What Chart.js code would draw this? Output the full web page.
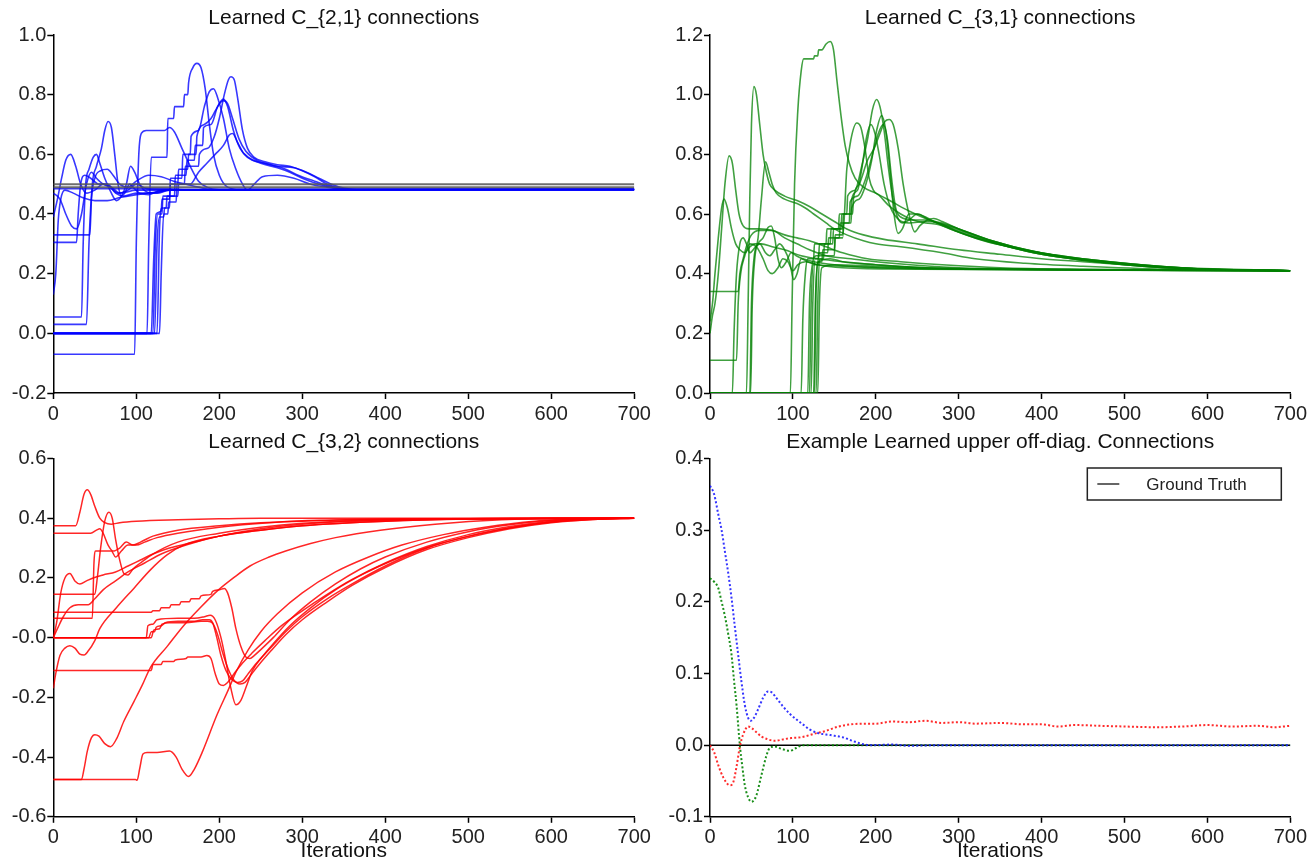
<!DOCTYPE html>
<html><head><meta charset="utf-8">
<script src="https://cdn.jsdelivr.net/npm/chart.js@4.4.1/dist/chart.umd.min.js"></script>
<style>
html,body{margin:0;padding:0;background:#fff;width:1310px;height:860px;overflow:hidden}
canvas{position:absolute}
</style></head><body>
<canvas id="c1" width="655" height="430" style="left:0;top:0;width:655px;height:430px"></canvas>
<canvas id="c2" width="655" height="430" style="left:655px;top:0;width:655px;height:430px"></canvas>
<canvas id="c3" width="655" height="435" style="left:0;top:425px;width:655px;height:435px"></canvas>
<canvas id="c4" width="655" height="435" style="left:655px;top:425px;width:655px;height:435px"></canvas>
<script>
// ---------- axis ticks ----------
const iterTicks = [0,100,200,300,400,500,600,700];
const c21TickValues = [-0.2,0,0.2,0.4,0.6,0.8,1.0];
const c21TickLabels = ['-0.2','0.0','0.2','0.4','0.6','0.8','1.0'];
const c31TickValues = [0,0.2,0.4,0.6,0.8,1.0,1.2];
const c31TickLabels = ['0.0','0.2','0.4','0.6','0.8','1.0','1.2'];
const c32TickValues = [-0.6,-0.4,-0.2,0,0.2,0.4,0.6];
const c32TickLabels = ['-0.6','-0.4','-0.2','-0.0','0.2','0.4','0.6'];
const offTickValues = [-0.1,0,0.1,0.2,0.3,0.4];
const offTickLabels = ['-0.1','0.0','0.1','0.2','0.3','0.4'];

const titles = ['Learned C_{2,1} connections','Learned C_{3,1} connections','Learned C_{3,2} connections','Example Learned upper off-diag. Connections'];
const xAxisTitle = 'Iterations';
const gtLabel = 'Ground Truth';

// ---------- C_{2,1} (blue) ----------
const c21Truth1 = [[0,0.5],[700,0.5]];
const c21Truth2 = [[0,0.49],[700,0.49]];
const c21Run1 = [[0,-0.07],[98,-0.07],[100,0.3],[103,0.6],[106,0.67],[112,0.68],[134,0.68],[140,0.69],[146,0.675],[155,0.62],[165,0.56],[175,0.51],[185,0.49],[200,0.482],[700,0.482]];
const c21Run2 = [[0,0],[113,0],[115,0.3],[118,0.59],[137,0.59],[138,0.72],[145,0.72],[146,0.76],[157,0.76],[158,0.8],[162,0.8],[163,0.84],[168,0.89],[173,0.905],[178,0.89],[183,0.82],[188,0.7],[193,0.6],[200,0.53],[210,0.49],[225,0.482],[700,0.482]];
const c21Run3 = [[0,0],[118,0],[121,0.25],[124,0.4],[130,0.41],[131,0.45],[140,0.45],[141,0.52],[155,0.52],[156,0.6],[165,0.6],[166,0.66],[175,0.68],[182,0.76],[188,0.81],[193,0.82],[198,0.79],[205,0.72],[212,0.62],[220,0.55],[228,0.5],[234,0.48],[242,0.5],[252,0.525],[270,0.53],[290,0.52],[310,0.5],[330,0.49],[350,0.482],[700,0.482]];
const c21Run4 = [[0,0],[122,0],[125,0.3],[128,0.39],[133,0.39],[134,0.42],[140,0.42],[141,0.5],[150,0.5],[151,0.55],[162,0.55],[163,0.6],[172,0.6],[173,0.66],[182,0.7],[190,0.72],[196,0.75],[205,0.785],[210,0.76],[217,0.68],[225,0.62],[235,0.59],[250,0.57],[270,0.555],[285,0.54],[300,0.52],[320,0.5],[340,0.487],[360,0.482],[700,0.482]];
const c21Run5 = [[0,0],[125,0],[128,0.35],[131,0.42],[136,0.42],[137,0.46],[146,0.46],[147,0.53],[160,0.53],[161,0.58],[170,0.58],[171,0.63],[180,0.63],[181,0.69],[190,0.7],[198,0.76],[205,0.78],[210,0.77],[216,0.72],[224,0.65],[232,0.61],[245,0.58],[262,0.565],[280,0.55],[295,0.53],[315,0.51],[335,0.492],[355,0.482],[700,0.482]];
const c21Run6 = [[0,0],[128,0],[130,0.2],[133,0.4],[138,0.4],[139,0.44],[148,0.44],[149,0.5],[158,0.5],[159,0.56],[175,0.56],[176,0.6],[186,0.62],[194,0.66],[200,0.72],[206,0.8],[211,0.85],[214,0.86],[218,0.85],[222,0.79],[228,0.68],[234,0.62],[242,0.59],[255,0.575],[270,0.565],[285,0.56],[300,0.545],[315,0.525],[330,0.5],[345,0.487],[360,0.482],[700,0.482]];
const c21Run7 = [[0,0],[120,0],[123,0.3],[126,0.4],[131,0.4],[132,0.46],[150,0.46],[151,0.5],[165,0.5],[175,0.54],[185,0.57],[195,0.6],[205,0.63],[212,0.665],[216,0.67],[222,0.64],[230,0.6],[240,0.58],[255,0.57],[270,0.56],[290,0.555],[305,0.54],[320,0.52],[335,0.5],[350,0.487],[365,0.482],[700,0.482]];
const c21Run8 = [[0,0.39],[5,0.45],[10,0.52],[15,0.58],[21,0.6],[27,0.56],[33,0.5],[40,0.47],[50,0.48],[60,0.5],[70,0.49],[80,0.47],[100,0.48],[700,0.482]];
const c21Run9 = [[0,0.47],[8,0.45],[15,0.4],[22,0.36],[28,0.35],[34,0.4],[40,0.5],[46,0.54],[52,0.52],[60,0.5],[68,0.49],[78,0.47],[90,0.48],[100,0.5],[112,0.485],[130,0.482],[700,0.482]];
const c21Run10 = [[0,0.13],[3,0.2],[6,0.38],[9,0.45],[14,0.48],[24,0.47],[35,0.455],[50,0.445],[65,0.445],[80,0.455],[100,0.465],[120,0.472],[140,0.48],[700,0.482]];
const c21Run11 = [[0,0.03],[40,0.03],[43,0.3],[47,0.5],[52,0.56],[58,0.62],[62,0.68],[66,0.71],[70,0.69],[74,0.6],[78,0.5],[82,0.46],[86,0.47],[92,0.5],[96,0.49],[105,0.47],[120,0.47],[140,0.48],[700,0.482]];
const c21Run12 = [[0,0.055],[34,0.055],[36,0.3],[39,0.5],[43,0.55],[48,0.59],[52,0.6],[56,0.57],[62,0.52],[70,0.47],[76,0.445],[82,0.46],[88,0.5],[93,0.56],[98,0.54],[104,0.5],[112,0.475],[125,0.47],[140,0.48],[700,0.482]];
const c21Run13 = [[0,0.305],[28,0.305],[30,0.4],[33,0.5],[38,0.53],[45,0.52],[55,0.5],[65,0.5],[75,0.47],[85,0.46],[100,0.47],[115,0.465],[130,0.48],[700,0.482]];
const c21Run14 = [[0,0.33],[44,0.33],[46,0.45],[50,0.52],[57,0.545],[65,0.55],[72,0.53],[80,0.5],[90,0.49],[100,0.51],[115,0.53],[130,0.525],[145,0.51],[160,0.5],[175,0.49],[190,0.482],[700,0.482]];
const c21Run15 = [[0,0.485],[130,0.485],[160,0.482],[700,0.482]];

// ---------- C_{3,1} (green) ----------
const c31Run1 = [[0,0],[97,0],[99,0.3],[102,0.7],[106,0.95],[110,1.08],[113,1.12],[125,1.12],[126,1.13],[130,1.13],[131,1.15],[135,1.15],[140,1.17],[145,1.178],[149,1.15],[153,1.05],[158,0.93],[163,0.83],[168,0.77],[175,0.72],[185,0.69],[200,0.67],[220,0.64],[240,0.61],[260,0.585],[280,0.565],[300,0.545],[330,0.515],[360,0.49],[400,0.465],[450,0.445],[500,0.43],[550,0.42],[600,0.415],[700,0.41]];
const c31Run2 = [[0,0],[44,0],[46,0.3],[48,0.65],[50,0.9],[53,1.027],[56,1.0],[60,0.9],[64,0.8],[68,0.74],[72,0.7],[78,0.68],[90,0.66],[105,0.645],[120,0.625],[135,0.6],[150,0.575],[165,0.55],[185,0.53],[210,0.515],[250,0.5],[300,0.48],[350,0.465],[400,0.45],[450,0.44],[500,0.43],[550,0.42],[600,0.415],[700,0.41]];
const c31Run3 = [[0,0.2],[3,0.26],[6,0.3],[10,0.4],[14,0.55],[18,0.7],[23,0.795],[27,0.77],[31,0.68],[35,0.6],[40,0.56],[47,0.55],[60,0.55],[75,0.545],[90,0.53],[105,0.52],[120,0.51],[140,0.49],[160,0.47],[190,0.45],[230,0.44],[280,0.43],[350,0.42],[450,0.415],[700,0.41]];
const c31Run4 = [[0,0.24],[3,0.3],[6,0.4],[10,0.52],[14,0.62],[17,0.65],[21,0.62],[26,0.55],[31,0.5],[36,0.48],[42,0.47],[48,0.49],[54,0.5],[62,0.5],[75,0.49],[90,0.48],[110,0.46],[130,0.45],[160,0.44],[200,0.43],[260,0.42],[350,0.415],[700,0.41]];
const c31Run5 = [[0,0],[49,0],[51,0.3],[54,0.45],[58,0.52],[62,0.65],[67,0.775],[71,0.74],[75,0.7],[80,0.67],[90,0.65],[105,0.635],[115,0.62],[125,0.6],[140,0.57],[150,0.55],[165,0.53],[185,0.51],[200,0.5],[230,0.49],[280,0.47],[320,0.45],[380,0.435],[450,0.425],[550,0.415],[700,0.41]];
const c31Run6 = [[0,0.34],[34,0.34],[36,0.4],[40,0.45],[45,0.5],[50,0.53],[60,0.545],[75,0.545],[90,0.52],[105,0.5],[120,0.48],[140,0.46],[170,0.45],[220,0.435],[300,0.42],[400,0.415],[700,0.41]];
const c31Run7 = [[0,0.11],[32,0.11],[34,0.3],[37,0.4],[42,0.46],[48,0.5],[56,0.49],[64,0.45],[70,0.41],[75,0.4],[82,0.42],[88,0.45],[94,0.44],[100,0.41],[106,0.43],[115,0.44],[130,0.43],[160,0.425],[220,0.42],[700,0.41]];
const c31Run8 = [[0,0],[27,0],[29,0.2],[32,0.4],[36,0.5],[40,0.52],[44,0.5],[48,0.47],[55,0.49],[60,0.5],[67,0.47],[72,0.46],[78,0.48],[84,0.5],[90,0.48],[96,0.44],[101,0.38],[105,0.4],[110,0.45],[118,0.44],[130,0.43],[160,0.42],[250,0.415],[700,0.41]];
const c31Run9 = [[0,0],[48,0],[50,0.3],[53,0.45],[58,0.5],[64,0.52],[70,0.555],[74,0.56],[78,0.52],[82,0.45],[86,0.42],[92,0.44],[98,0.47],[104,0.46],[112,0.45],[125,0.44],[150,0.43],[200,0.42],[300,0.415],[700,0.41]];
const c31Run10 = [[0,0],[110,0],[112,0.25],[115,0.4],[118,0.45],[125,0.45],[126,0.5],[140,0.5],[141,0.55],[155,0.55],[156,0.6],[165,0.6],[166,0.66],[175,0.68],[183,0.76],[190,0.85],[196,0.95],[201,0.984],[205,0.96],[210,0.88],[215,0.76],[220,0.66],[226,0.59],[232,0.57],[240,0.58],[250,0.6],[260,0.59],[270,0.575],[290,0.55],[320,0.52],[360,0.49],[400,0.465],[450,0.445],[500,0.43],[550,0.42],[600,0.415],[700,0.41]];
const c31Run11 = [[0,0],[118,0],[120,0.3],[123,0.42],[128,0.46],[150,0.46],[151,0.52],[160,0.52],[165,0.75],[170,0.85],[177,0.905],[182,0.89],[187,0.82],[192,0.72],[197,0.68],[205,0.66],[215,0.63],[230,0.6],[245,0.58],[260,0.57],[275,0.565],[290,0.55],[330,0.51],[370,0.485],[420,0.46],[480,0.44],[540,0.425],[600,0.415],[700,0.41]];
const c31Run12 = [[0,0],[122,0],[124,0.3],[127,0.45],[131,0.45],[132,0.5],[145,0.5],[146,0.55],[160,0.55],[161,0.6],[170,0.6],[171,0.65],[178,0.68],[183,0.75],[189,0.86],[194,0.9],[199,0.87],[204,0.8],[210,0.7],[218,0.62],[228,0.58],[240,0.57],[260,0.575],[275,0.57],[300,0.54],[340,0.505],[390,0.47],[450,0.445],[510,0.43],[570,0.42],[700,0.41]];
const c31Run13 = [[0,0],[125,0],[127,0.3],[130,0.44],[135,0.44],[136,0.48],[150,0.48],[151,0.53],[160,0.53],[161,0.57],[170,0.57],[171,0.62],[180,0.65],[188,0.7],[195,0.78],[201,0.88],[207,0.93],[212,0.88],[217,0.75],[222,0.6],[227,0.535],[232,0.55],[240,0.6],[250,0.6],[265,0.58],[280,0.57],[300,0.55],[340,0.51],[380,0.48],[430,0.455],[490,0.435],[550,0.42],[700,0.41]];
const c31Run14 = [[0,0],[128,0],[130,0.3],[132,0.45],[137,0.45],[138,0.5],[148,0.5],[149,0.55],[158,0.55],[159,0.6],[172,0.6],[173,0.65],[180,0.7],[190,0.78],[198,0.82],[205,0.87],[211,0.91],[216,0.917],[221,0.9],[227,0.82],[233,0.7],[240,0.6],[247,0.54],[253,0.56],[262,0.58],[270,0.585],[280,0.575],[300,0.55],[340,0.51],[390,0.475],[450,0.45],[520,0.43],[600,0.415],[700,0.41]];
const c31Run15 = [[0,0],[120,0],[122,0.3],[125,0.43],[130,0.43],[131,0.47],[142,0.47],[143,0.52],[156,0.52],[157,0.57],[168,0.57],[169,0.64],[178,0.66],[188,0.72],[196,0.8],[203,0.87],[209,0.9],[214,0.85],[219,0.72],[224,0.62],[230,0.59],[245,0.58],[260,0.58],[275,0.57],[300,0.55],[340,0.51],[390,0.475],[450,0.45],[520,0.43],[600,0.415],[700,0.41]];
const c31Run16 = [[0,0],[130,0],[132,0.3],[135,0.42],[150,0.43],[200,0.425],[300,0.415],[700,0.41]];
const c31Run17 = [[0,0],[126,0],[128,0.35],[131,0.44],[145,0.45],[160,0.44],[200,0.43],[260,0.42],[700,0.41]];

// ---------- C_{3,2} (red) ----------
const c32Run1 = [[0,0.375],[27,0.375],[32,0.42],[37,0.48],[41,0.495],[45,0.48],[50,0.44],[56,0.4],[62,0.385],[70,0.38],[80,0.385],[100,0.39],[150,0.395],[200,0.398],[250,0.4],[700,0.4]];
const c32Run2 = [[0,0.35],[45,0.35],[52,0.36],[56,0.365],[60,0.35],[66,0.31],[72,0.29],[80,0.3],[88,0.32],[96,0.31],[105,0.32],[120,0.34],[150,0.36],[200,0.375],[250,0.385],[300,0.39],[400,0.397],[700,0.4]];
const c32Run3 = [[0,0.145],[50,0.145],[53,0.2],[57,0.3],[62,0.39],[67,0.42],[71,0.4],[75,0.33],[80,0.26],[85,0.215],[90,0.21],[96,0.23],[105,0.25],[120,0.28],[150,0.32],[200,0.35],[250,0.37],[300,0.383],[400,0.395],[700,0.4]];
const c32Run4 = [[0,0.065],[47,0.065],[49,0.25],[51,0.29],[64,0.29],[70,0.29],[75,0.27],[82,0.29],[90,0.31],[100,0.31],[110,0.32],[125,0.335],[150,0.35],[200,0.37],[260,0.385],[320,0.393],[700,0.4]];
const c32Run5 = [[0,0],[4,0.05],[9,0.15],[14,0.2],[20,0.215],[26,0.19],[32,0.18],[40,0.19],[48,0.2],[60,0.21],[75,0.22],[90,0.24],[105,0.26],[120,0.28],[140,0.3],[170,0.32],[200,0.34],[250,0.36],[300,0.375],[400,0.39],[500,0.397],[700,0.4]];
const c32Run6 = [[0,0],[5,0.03],[12,0.07],[20,0.1],[30,0.11],[42,0.11],[50,0.13],[60,0.16],[75,0.19],[90,0.22],[110,0.25],[130,0.28],[160,0.31],[200,0.34],[250,0.365],[300,0.38],[400,0.393],[700,0.4]];
const c32Run7 = [[0,-0.17],[3,-0.12],[8,-0.06],[14,-0.035],[20,-0.027],[26,-0.035],[32,-0.055],[37,-0.058],[42,-0.045],[50,-0.01],[56,0.03],[76,0.1],[97,0.165],[117,0.227],[137,0.277],[157,0.31],[200,0.34],[250,0.36],[300,0.375],[400,0.39],[550,0.4],[700,0.4]];
const c32Run8 = [[0,-0.475],[34,-0.475],[37,-0.44],[41,-0.38],[46,-0.335],[50,-0.325],[55,-0.33],[62,-0.355],[69,-0.365],[76,-0.34],[85,-0.28],[97,-0.215],[107,-0.16],[117,-0.1],[137,-0.03],[157,0.04],[177,0.1],[197,0.155],[217,0.2],[237,0.24],[260,0.27],[280,0.29],[310,0.315],[340,0.335],[394,0.36],[460,0.38],[540,0.395],[620,0.4],[700,0.4]];
const c32Run9 = [[0,-0.475],[99,-0.475],[101,-0.478],[104,-0.44],[108,-0.39],[113,-0.385],[125,-0.385],[140,-0.38],[148,-0.4],[155,-0.44],[163,-0.465],[170,-0.44],[180,-0.38],[197,-0.26],[210,-0.18],[221,-0.11],[235,-0.04],[250,0.02],[270,0.08],[300,0.15],[340,0.22],[380,0.27],[420,0.31],[470,0.345],[520,0.37],[580,0.39],[640,0.398],[700,0.4]];
const c32Run10 = [[0,0.085],[118,0.085],[120,0.09],[128,0.09],[130,0.1],[140,0.1],[142,0.11],[152,0.11],[154,0.12],[164,0.12],[166,0.13],[176,0.13],[178,0.14],[190,0.145],[192,0.155],[200,0.16],[206,0.165],[210,0.15],[215,0.1],[220,0.03],[226,-0.03],[232,-0.065],[237,-0.07],[242,-0.06],[250,-0.04],[265,0.0],[285,0.06],[310,0.12],[340,0.18],[370,0.23],[400,0.27],[450,0.32],[500,0.355],[550,0.378],[600,0.392],[650,0.398],[700,0.4]];
const c32Run11 = [[0,0],[115,0],[118,0.02],[122,0.02],[124,0.035],[130,0.04],[135,0.05],[150,0.055],[170,0.055],[180,0.06],[188,0.06],[192,0.05],[197,0.0],[202,-0.06],[208,-0.11],[215,-0.14],[222,-0.15],[228,-0.145],[235,-0.12],[245,-0.085],[260,-0.04],[280,0.02],[300,0.07],[330,0.13],[360,0.18],[400,0.24],[450,0.3],[500,0.34],[550,0.368],[600,0.387],[650,0.396],[700,0.4]];
const c32Run12 = [[0,0],[118,0],[121,0.025],[128,0.03],[131,0.045],[140,0.05],[160,0.05],[178,0.055],[186,0.055],[192,0.048],[198,0.01],[204,-0.05],[210,-0.1],[217,-0.14],[225,-0.155],[231,-0.15],[238,-0.125],[248,-0.09],[262,-0.045],[280,0.01],[300,0.06],[330,0.12],[360,0.175],[400,0.235],[450,0.295],[500,0.335],[550,0.365],[600,0.385],[650,0.396],[700,0.4]];
const c32Run13 = [[0,0],[112,0],[114,0.04],[120,0.045],[125,0.06],[150,0.065],[170,0.065],[182,0.07],[189,0.075],[195,0.06],[202,0.0],[208,-0.08],[214,-0.17],[220,-0.225],[226,-0.21],[233,-0.16],[240,-0.11],[250,-0.07],[265,-0.02],[285,0.04],[310,0.1],[340,0.16],[375,0.215],[410,0.26],[460,0.31],[510,0.345],[560,0.372],[610,0.39],[660,0.398],[700,0.4]];
const c32Run14 = [[0,-0.11],[118,-0.11],[120,-0.09],[130,-0.09],[132,-0.08],[145,-0.08],[147,-0.075],[160,-0.07],[162,-0.065],[178,-0.065],[185,-0.06],[190,-0.07],[195,-0.12],[200,-0.155],[205,-0.16],[210,-0.15],[218,-0.12],[228,-0.085],[240,-0.05],[255,-0.01],[275,0.04],[300,0.09],[330,0.145],[360,0.195],[400,0.25],[450,0.305],[500,0.345],[550,0.372],[600,0.39],[650,0.398],[700,0.4]];

// ---------- Example upper off-diagonal ----------
const offTruth = [[0,0],[700,0]];
const offBlue = [[0,0.362],[5,0.35],[10,0.322],[14,0.3],[18,0.27],[22,0.24],[26,0.205],[30,0.165],[34,0.126],[38,0.088],[42,0.056],[46,0.038],[49,0.034],[53,0.038],[58,0.05],[64,0.066],[70,0.075],[74,0.074],[80,0.066],[88,0.054],[96,0.044],[104,0.036],[112,0.029],[120,0.022],[130,0.017],[145,0.014],[160,0.011],[172,0.006],[182,0.002],[195,0.0],[220,0.0008],[240,-0.0008],[280,0.0],[700,0.0]];
const offGreen = [[0,0.233],[5,0.228],[10,0.219],[14,0.2],[18,0.18],[22,0.155],[26,0.126],[29,0.09],[32,0.056],[36,0.0],[39,-0.03],[42,-0.056],[46,-0.073],[50,-0.079],[53,-0.077],[56,-0.07],[62,-0.042],[68,-0.015],[72,-0.004],[78,-0.002],[86,-0.005],[96,-0.008],[104,-0.004],[112,0.0],[700,0.0]];
const offRed = [[0,0],[5,-0.01],[10,-0.028],[16,-0.045],[24,-0.056],[28,-0.052],[32,-0.03],[36,-0.002],[40,0.015],[46,0.026],[50,0.024],[56,0.018],[62,0.012],[70,0.008],[78,0.006],[88,0.008],[98,0.01],[110,0.011],[126,0.016],[140,0.02],[155,0.026],[170,0.029],[187,0.03],[200,0.03],[220,0.033],[240,0.032],[260,0.034],[280,0.031],[300,0.032],[320,0.03],[350,0.031],[380,0.029],[400,0.029],[420,0.026],[440,0.028],[470,0.027],[500,0.026],[540,0.025],[570,0.026],[600,0.028],[630,0.026],[660,0.027],[680,0.025],[700,0.027]];

// ---------- styling / building ----------
const FONT = '"Liberation Sans", Arial, Helvetica, sans-serif';
const BLUE = 'rgba(0,0,255,0.78)';
const GREEN = 'rgba(0,128,0,0.75)';
const RED = 'rgba(255,0,0,0.85)';
const TRUTH = 'rgba(85,85,85,0.85)';

function solid(data, color, width) {
  return { data: data, borderColor: color, borderWidth: width, pointRadius: 0, fill: false };
}
function dotted(data, color) {
  return { data: data, borderColor: color, borderWidth: 2, borderDash: [2, 2.2], pointRadius: 0, fill: false };
}

const gtLegendPlugin = {
  id: 'gtLegend',
  afterDraw(chart) {
    const ctx = chart.ctx, a = chart.chartArea;
    const w = 194, h = 32;
    const x = a.right - 9 - w, y = a.top + 9.5;
    ctx.save();
    ctx.fillStyle = '#fff';
    ctx.fillRect(x, y, w, h);
    ctx.strokeStyle = '#222';
    ctx.lineWidth = 1.5;
    ctx.strokeRect(x, y, w, h);
    ctx.strokeStyle = '#333';
    ctx.lineWidth = 1.5;
    ctx.beginPath();
    ctx.moveTo(x + 10, y + h / 2);
    ctx.lineTo(x + 32, y + h / 2);
    ctx.stroke();
    ctx.fillStyle = '#222';
    ctx.font = '17px ' + FONT;
    ctx.textBaseline = 'middle';
    ctx.fillText(gtLabel, x + 59, y + h / 2 + 1);
    ctx.restore();
  }
};

function makePanel(id, o) {
  const tickFont = { family: FONT, size: 20 };
  return new Chart(document.getElementById(id), {
    type: 'line',
    data: { datasets: o.datasets },
    options: {
      responsive: false, animation: false, devicePixelRatio: 1,
      layout: { padding: { left: 0, right: o.padRight, top: 0, bottom: 0 } },
      elements: { line: { cubicInterpolationMode: 'monotone' }, point: { radius: 0 } },
      plugins: {
        legend: { display: false },
        tooltip: { enabled: false },
        title: {
          display: true, text: o.title, fullSize: false, color: '#111',
          font: { family: FONT, size: 21, weight: 'normal', lineHeight: 1.2 },
          padding: { top: o.titleTop, bottom: o.titleBottom }
        }
      },
      scales: {
        x: {
          type: 'linear', min: 0, max: 700,
          afterBuildTicks: s => { s.ticks = iterTicks.map(v => ({ value: v })); },
          afterFit: s => { s.height = o.xH; },
          ticks: { autoSkip: false, maxRotation: 0, font: tickFont, color: '#222', padding: 3,
                   callback: (v, i) => String(iterTicks[i]) },
          grid: { drawOnChartArea: false, drawTicks: true, tickLength: 6, tickColor: '#000', tickWidth: 1.5 },
          border: { display: true, color: '#000', width: 1.5 },
          title: { display: !!o.xTitle, text: o.xTitle || '', color: '#111',
                   font: { family: FONT, size: 21, lineHeight: 0.8 }, padding: { top: 0, bottom: 0 } }
        },
        y: {
          type: 'linear', min: o.yVals[0], max: o.yVals[o.yVals.length - 1],
          afterBuildTicks: s => { s.ticks = o.yVals.map(v => ({ value: v })); },
          afterFit: s => { s.width = o.yW; },
          ticks: { autoSkip: false, font: tickFont, color: '#222', padding: 1,
                   callback: (v, i) => o.yLabels[i] },
          grid: { drawOnChartArea: false, drawTicks: true, tickLength: 6, tickColor: '#000', tickWidth: 1.5 },
          border: { display: true, color: '#000', width: 1.5 }
        }
      }
    },
    plugins: o.plugins || []
  });
}

const c21Runs = [c21Run1,c21Run2,c21Run3,c21Run4,c21Run5,c21Run6,c21Run7,c21Run8,c21Run9,c21Run10,c21Run11,c21Run12,c21Run13,c21Run14,c21Run15];
const c31Runs = [c31Run1,c31Run2,c31Run3,c31Run4,c31Run5,c31Run6,c31Run7,c31Run8,c31Run9,c31Run10,c31Run11,c31Run12,c31Run13,c31Run14,c31Run15,c31Run16,c31Run17];
const c32Runs = [c32Run1,c32Run2,c32Run3,c32Run4,c32Run5,c32Run6,c32Run7,c32Run8,c32Run9,c32Run10,c32Run11,c32Run12,c32Run13,c32Run14];

makePanel('c1', {
  title: titles[0], titleTop: 6, titleBottom: 3.8, padRight: 20.7, yW: 53.3, xH: 37,
  yVals: c21TickValues, yLabels: c21TickLabels,
  datasets: [solid(c21Truth1, TRUTH, 2), solid(c21Truth2, TRUTH, 2)].concat(c21Runs.map(r => solid(r, BLUE, 1.6)))
});
makePanel('c2', {
  title: titles[1], titleTop: 6, titleBottom: 3.8, padRight: 19, yW: 55, xH: 37,
  yVals: c31TickValues, yLabels: c31TickLabels,
  datasets: c31Runs.map(r => solid(r, GREEN, 1.6))
});
makePanel('c3', {
  title: titles[2], titleTop: 4.4, titleBottom: 3.9, padRight: 20.7, yW: 53.3, xH: 43.2, xTitle: xAxisTitle,
  yVals: c32TickValues, yLabels: c32TickLabels,
  datasets: c32Runs.map(r => solid(r, RED, 1.5))
});
makePanel('c4', {
  title: titles[3], titleTop: 4.4, titleBottom: 3.9, padRight: 19, yW: 55, xH: 43.2, xTitle: xAxisTitle,
  yVals: offTickValues, yLabels: offTickLabels,
  datasets: [dotted(offBlue, 'rgba(30,30,255,0.9)'), dotted(offRed, 'rgba(255,20,20,0.9)'), dotted(offGreen, 'rgba(0,130,0,0.9)'), solid(offTruth, '#000', 1.5)],
  plugins: [gtLegendPlugin]
});
</script>
</body></html>
